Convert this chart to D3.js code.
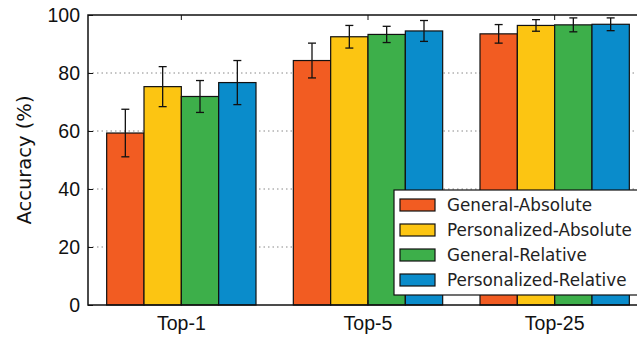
<!DOCTYPE html>
<html lang="en">
<head>
<meta charset="UTF-8">
<title>Accuracy by Top-k</title>
<script src="https://d3js.org/d3.v7.min.js"></script>
<style>
  body { margin: 0; background: #fff; }
  svg { font-family: "DejaVu Sans", sans-serif; display: block; }
  .grid line { stroke: #888; stroke-dasharray: 1.5,3; stroke-width: 1; }
</style>
</head>
<body>
<div id="chart"></div>
<script>
// data
const groups = ["Top-1", "Top-5", "Top-25"];
const series = ["General-Absolute", "Personalized-Absolute", "General-Relative", "Personalized-Relative"];
const colors = ["#f25c22", "#fcc512", "#3daf4a", "#0a8ccb"];
const yTicks = [0, 20, 40, 60, 80, 100];

const generalAbsolute      = [59.3, 84.3, 93.5];
const personalizedAbsolute = [75.3, 92.5, 96.4];
const generalRelative      = [71.9, 93.3, 96.6];
const personalizedRelative = [76.7, 94.5, 96.8];

const errGeneralAbsolute      = [8.2, 6.0, 3.2];
const errPersonalizedAbsolute = [6.9, 3.9, 2.0];
const errGeneralRelative      = [5.5, 2.8, 2.4];
const errPersonalizedRelative = [7.6, 3.6, 2.2];

const values = [generalAbsolute, personalizedAbsolute, generalRelative, personalizedRelative];
const errors = [errGeneralAbsolute, errPersonalizedAbsolute, errGeneralRelative, errPersonalizedRelative];

const W = 637, H = 337;
const margin = { top: 15, left: 88, bottom: 32 };
const plotRight = 648; // plot runs slightly past the picture edge
const height = H - margin.top - margin.bottom;

const svg = d3.select("#chart").append("svg")
    .attr("width", W)
    .attr("height", H);

const x0 = d3.scaleBand().domain(groups)
    .range([margin.left, plotRight])
    .paddingInner(0.2).paddingOuter(0.1);
const x1 = d3.scaleBand().domain(series).range([0, x0.bandwidth()]);
const y = d3.scaleLinear().domain([0, 100]).range([margin.top + height, margin.top]);

// dotted grid
svg.append("g").attr("class", "grid")
    .selectAll("line")
    .data(yTicks.filter(t => t > 0 && t < 100))
    .join("line")
    .attr("x1", margin.left).attr("x2", plotRight)
    .attr("y1", d => y(d)).attr("y2", d => y(d));

// bars
const rows = [];
groups.forEach((g, gi) => series.forEach((s, si) => {
    rows.push({ group: g, series: s, si: si, value: values[si][gi], err: errors[si][gi] });
}));

svg.append("g").selectAll("rect")
    .data(rows)
    .join("rect")
    .attr("x", d => x0(d.group) + x1(d.series))
    .attr("y", d => y(d.value))
    .attr("width", x1.bandwidth())
    .attr("height", d => y(0) - y(d.value))
    .attr("fill", d => colors[d.si])
    .attr("stroke", "#111")
    .attr("stroke-width", 1.2);

// error bars
const eb = svg.append("g").attr("stroke", "#111").attr("stroke-width", 1.3);
rows.forEach(d => {
    const cx = x0(d.group) + x1(d.series) + x1.bandwidth() / 2;
    eb.append("line").attr("x1", cx).attr("x2", cx)
        .attr("y1", y(d.value + d.err)).attr("y2", y(d.value - d.err));
    [d.value + d.err, d.value - d.err].forEach(v => {
        eb.append("line").attr("x1", cx - 4).attr("x2", cx + 4)
            .attr("y1", y(v)).attr("y2", y(v));
    });
});

// axes (matplotlib classic look: inward ticks, full frame)
const yAxis = svg.append("g")
    .attr("transform", `translate(${margin.left},0)`)
    .call(d3.axisLeft(y).tickValues(yTicks).tickSize(-5).tickPadding(8));
yAxis.select(".domain").remove();
yAxis.selectAll("text").attr("font-size", 19.5).attr("fill", "#111");
yAxis.selectAll("line").attr("stroke", "#111");

const xAxis = svg.append("g")
    .attr("transform", `translate(0,${y(0)})`)
    .call(d3.axisBottom(x0).tickSize(-5).tickPadding(11));
xAxis.select(".domain").remove();
xAxis.selectAll("text").attr("font-size", 19.5).attr("fill", "#111");
xAxis.selectAll("line").attr("stroke", "#111");

const topTicks = svg.append("g")
    .attr("transform", `translate(0,${y(100)})`)
    .call(d3.axisTop(x0).tickSize(-5).tickFormat(""));
topTicks.select(".domain").remove();
topTicks.selectAll("line").attr("stroke", "#111");

svg.append("rect")
    .attr("x", margin.left).attr("y", y(100))
    .attr("width", plotRight - margin.left).attr("height", y(0) - y(100))
    .attr("fill", "none").attr("stroke", "#111").attr("stroke-width", 1.5);

svg.append("text")
    .attr("transform", `translate(31,${(y(0) + y(100)) / 2}) rotate(-90)`)
    .attr("text-anchor", "middle")
    .attr("font-size", 19.5)
    .attr("fill", "#111")
    .text("Accuracy (%)");

// legend
const legend = svg.append("g").attr("transform", "translate(394,190)");
legend.append("rect")
    .attr("width", 250).attr("height", 105)
    .attr("fill", "#fff").attr("stroke", "#111").attr("stroke-width", 1.2);
series.forEach((s, i) => {
    const row = legend.append("g").attr("transform", `translate(6,${9 + i * 25})`);
    row.append("rect")
        .attr("width", 35).attr("height", 12)
        .attr("fill", colors[i]).attr("stroke", "#111").attr("stroke-width", 1.2);
    row.append("text")
        .attr("x", 47).attr("y", 6)
        .attr("dy", "0.35em")
        .attr("font-size", 16.8)
        .attr("fill", "#222")
        .text(s);
});
</script>
</body>
</html>
